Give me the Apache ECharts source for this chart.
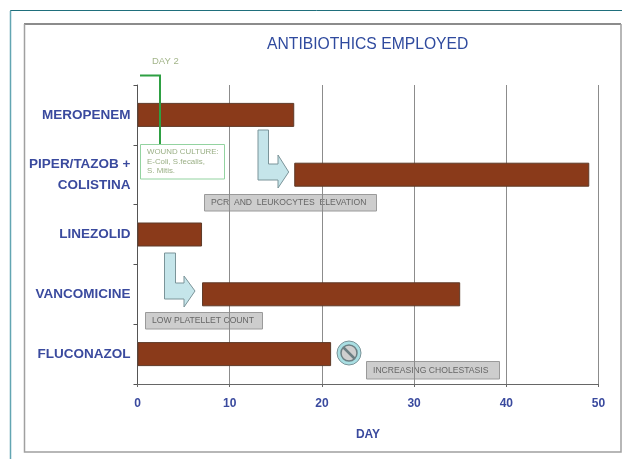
<!DOCTYPE html>
<html>
<head>
<meta charset="utf-8">
<style>
	html, body { margin: 0; padding: 0; background: #fff; }
	#chart { width: 622px; height: 459px; filter: blur(0.35px); }
</style>
<script src="https://cdn.jsdelivr.net/npm/echarts@6/dist/echarts.min.js"></script>
</head>
<body>
<div id="chart"></div>
<script>
	// data
	const drugs = ['MEROPENEM', 'PIPER/TAZOB +\nCOLISTINA', 'LINEZOLID', 'VANCOMICINE', 'FLUCONAZOL']
	const startDay = [0, 17, 0, 7, 0]
	const daysGiven = [17, 32, 7, 28, 21]
	const dayTicks = [0, 10, 20, 30, 40, 50]

	const blue = '#3a4a9e'
	const chart = echarts.init(document.getElementById('chart'))

	// grey note box with a caption
	const noteBox = (x, y, w, h, text) => ({
		type: 'group',
		z: 100,
		children: [
			{ type: 'rect', shape: { x, y, width: w, height: h }, style: { fill: '#cdcdcd', stroke: '#9a9a9a', lineWidth: 1 } },
			{
				type: 'text', x: x + 6.5, y: y + h / 2,
				style: { text, fill: '#666', font: '8.6px "Liberation Sans"', verticalAlign: 'middle' }
			}
		]
	})

	const bentArrow = (points) => ({
		type: 'polygon',
		z: 100,
		shape: { points },
		style: { fill: '#c5e5ea', stroke: '#7b9499', lineWidth: 1 }
	})

	const option = {
		animation: false,
		backgroundColor: '#fff',
		title: {
			text: 'ANTIBIOTHICS EMPLOYED',
			left: 267,
			top: 37,
			padding: 0,
			textStyle: { color: '#2f4a9e', fontSize: 15.7, fontWeight: 'normal', fontFamily: 'Liberation Sans' }
		},
		grid: { left: 137.5, right: 23.5, top: 85, height: 299 },
		xAxis: {
			type: 'value',
			min: dayTicks[0],
			max: dayTicks[dayTicks.length - 1],
			interval: 10,
			name: 'DAY',
			nameLocation: 'middle',
			nameGap: 45,
			nameTextStyle: { color: blue, fontSize: 12, fontWeight: 'bold', fontFamily: 'Liberation Sans' },
			axisLine: { show: true, lineStyle: { color: '#666', width: 1 } },
			axisTick: { show: true, length: 3, lineStyle: { color: '#666' } },
			axisLabel: { color: blue, fontSize: 12, fontWeight: 'bold', fontFamily: 'Liberation Sans', margin: 14 },
			splitLine: { show: true, lineStyle: { color: '#8c8c8c', width: 1 } }
		},
		yAxis: {
			type: 'category',
			inverse: true,
			data: drugs,
			axisLine: { show: true, lineStyle: { color: '#555', width: 1 } },
			axisTick: { show: true, length: 4, alignWithLabel: false, lineStyle: { color: '#555' } },
			axisLabel: {
				color: blue,
				fontSize: 13.5,
				fontWeight: 'bold',
				fontFamily: 'Liberation Sans',
				margin: 7,
				lineHeight: 21,
				align: 'right'
			}
		},
		series: [
			{
				type: 'bar',
				stack: 'days',
				silent: true,
				barWidth: 24,
				data: startDay,
				itemStyle: { color: 'transparent' }
			},
			{
				type: 'bar',
				stack: 'days',
				barWidth: 24,
				data: daysGiven,
				itemStyle: { color: '#8a3a1a', borderColor: '#5e3a28', borderWidth: 1 }
			}
		],
		graphic: [
			// slide frames
			{ type: 'polyline', z: 1, shape: { points: [[10.5, 459], [10.5, 10.5], [622, 10.5]] }, style: { fill: null, stroke: '#1f6f7c', lineWidth: 1 } },
			{ type: 'line', z: 1, shape: { x1: 10.5, y1: 11, x2: 10.5, y2: 459 }, style: { stroke: '#62a5b2', lineWidth: 1.5 } },
			{ type: 'line', z: 1, shape: { x1: 24, y1: 24, x2: 621, y2: 24 }, style: { stroke: '#666', lineWidth: 1.5 } },
			{ type: 'polyline', z: 1, shape: { points: [[24.5, 24], [24.5, 452], [621, 452], [621, 24]] }, style: { fill: null, stroke: '#a0a0a0', lineWidth: 1.5 } },

			// day 2 callout
			{ type: 'text', z: 100, x: 152, y: 61, style: { text: 'DAY 2', fill: '#a3b58a', font: '9.5px "Liberation Sans"', verticalAlign: 'middle' } },
			{ type: 'polyline', z: 100, shape: { points: [[140, 75.5], [160, 75.5], [160, 144]] }, style: { fill: null, stroke: '#2ea043', lineWidth: 2 } },
			{ type: 'rect', z: 100, shape: { x: 140.5, y: 144.5, width: 84, height: 34.5 }, style: { fill: '#fff', stroke: '#93d3a0', lineWidth: 1 } },
			{
				type: 'text', z: 101, x: 147, y: 147.5,
				style: {
					text: 'WOUND CULTURE:\nE-Coli, S.fecalis,\nS. Mitis.',
					fill: '#9aaf85',
					font: '7.9px "Liberation Sans"',
					lineHeight: 9.3
				}
			},

			// switch arrows
			bentArrow([[258, 130], [268.5, 130], [268.5, 164], [278, 164], [278, 155], [288.7, 172], [278, 188], [278, 180], [258, 180]]),
			bentArrow([[164.5, 253], [175.5, 253], [175.5, 283], [184, 283], [184, 276], [195, 291], [184, 307], [184, 299], [164.5, 299]]),

			// notes
			noteBox(204.5, 194.5, 172, 16.5, 'PCR  AND  LEUKOCYTES  ELEVATION'),
			noteBox(145.5, 312.5, 117, 16.5, 'LOW PLATELLET COUNT'),
			noteBox(366.5, 361.5, 133, 17.5, 'INCREASING CHOLESTASIS'),

			// stop sign next to fluconazol
			{ type: 'circle', z: 100, shape: { cx: 349, cy: 353, r: 12 }, style: { fill: '#a9dfe3', stroke: '#7b9499', lineWidth: 1 } },
			{ type: 'circle', z: 101, shape: { cx: 349, cy: 353, r: 8 }, style: { fill: '#cfcfcf', stroke: '#6d7f83', lineWidth: 1.5 } },
			{ type: 'line', z: 102, shape: { x1: 343.5, y1: 347.5, x2: 354.5, y2: 358.5 }, style: { stroke: '#6d7f83', lineWidth: 2.5 } }
		]
	}

	chart.setOption(option)
</script>
</body>
</html>
